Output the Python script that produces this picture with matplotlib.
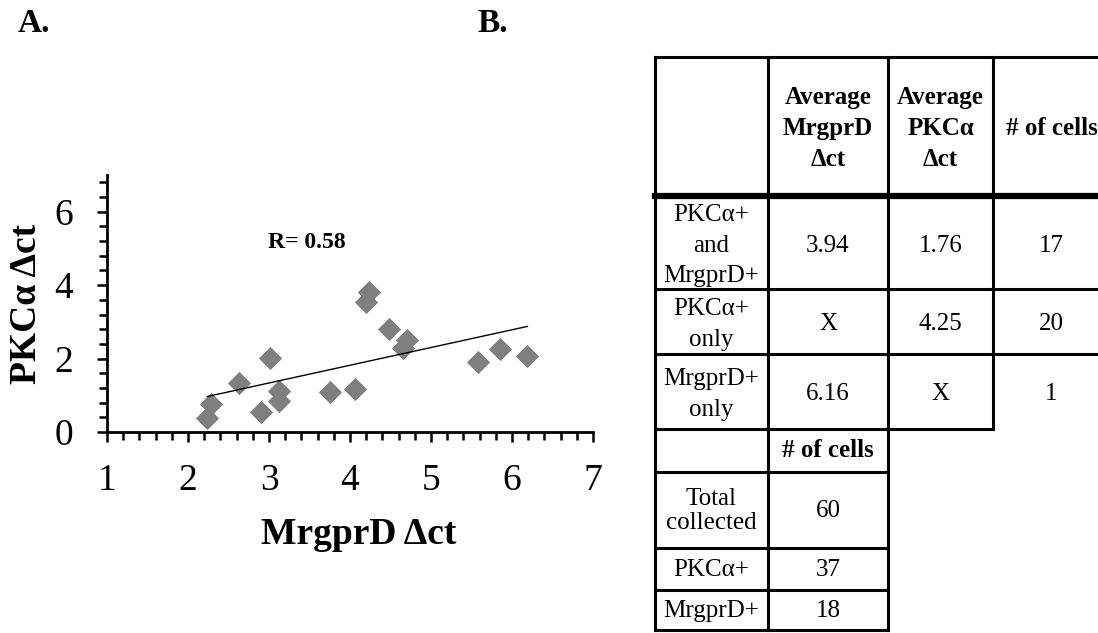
import numpy as np
import matplotlib
matplotlib.use("Agg")
import matplotlib.pyplot as plt
from matplotlib.ticker import MultipleLocator

# ---- data ----
mrgprd_dct = [2.24, 2.29, 2.63, 2.90, 3.01, 3.12, 3.12, 3.75, 4.06, 4.20, 4.23,
              4.48, 4.66, 4.70, 5.58, 5.85, 6.19]
pkca_dct = [0.37, 0.75, 1.34, 0.55, 2.01, 1.12, 0.85, 1.08, 1.16, 3.55, 3.82,
            2.80, 2.28, 2.51, 1.90, 2.26, 2.08]
r_text = "R= 0.58"
x_ticks = [1, 2, 3, 4, 5, 6, 7]
y_ticks = [0, 2, 4, 6]

table1_header = ["", "Average\nMrgprD\n\u0394ct", "Average\nPKC\u03b1\n\u0394ct", "# of cells"]
table1_rows = ["PKC\u03b1+\nand\nMrgprD+", "PKC\u03b1+\nonly", "MrgprD+\nonly"]
table1_mrgprd = ["3.94", "X", "6.16"]
table1_pkca = ["1.76", "4.25", "X"]
table1_cells = ["17", "20", "1"]

table2_header = ["", "# of cells"]
table2_rows = ["Total\ncollected", "PKC\u03b1+", "MrgprD+"]
table2_cells = ["60", "37", "18"]

plt.rcParams['font.family'] = ['Liberation Serif', 'DejaVu Serif']

W, H = 1098, 633
fig = plt.figure(figsize=(W / 100, H / 100), dpi=100)

# ---- scatter panel ----
ax = fig.add_axes([107 / W, 1 - 432 / H, (593 - 107) / W, (432 - 175) / H])
ax.scatter(mrgprd_dct, pkca_dct, marker='D', s=140, color='#7f7f7f',
           linewidths=0, zorder=3)
k, b = np.polyfit(mrgprd_dct, pkca_dct, 1)
xl = np.array([min(mrgprd_dct), max(mrgprd_dct)])
ax.plot(xl, k * xl + b, color='black', lw=1.0, zorder=4)
ax.text(3.47, 5.15, r_text, fontsize=17, fontweight='bold', ha='center', va='center')

ax.set_xlim(1, 7)
ax.set_ylim(0, 7)
ax.set_xticks(x_ticks)
ax.set_yticks(y_ticks)
ax.xaxis.set_minor_locator(MultipleLocator(0.2))
ax.yaxis.set_minor_locator(MultipleLocator(0.4))
for s in ['top', 'right']:
    ax.spines[s].set_visible(False)
for s in ['left', 'bottom']:
    ax.spines[s].set_linewidth(2.0)
ax.tick_params(which='major', direction='out', length=7.5, width=1.8, labelsize=27)
ax.tick_params(which='minor', direction='out', length=6, width=1.8)
ax.tick_params(axis='x', which='major', pad=15)
ax.tick_params(axis='y', which='major', pad=17)
ax.set_xlabel("MrgprD \u0394ct", fontsize=27, fontweight='bold')
ax.set_ylabel("PKC\u03b1 \u0394ct", fontsize=27, fontweight='bold')
ax.xaxis.set_label_coords((359 - 107) / (593 - 107), -(534 - 432) / (432 - 175))
ax.yaxis.set_label_coords(-(107 - 27) / (593 - 107), 0.5)
ax.xaxis.label.set_va('center')
ax.yaxis.label.set_va('center')

# ---- overlay for panel letters and table ----
ov = fig.add_axes([0, 0, 1, 1], zorder=-1)
ov.set_xlim(0, W)
ov.set_ylim(H, 0)
ov.axis('off')

ov.text(18, 32, "A.", fontsize=24, fontweight='bold', ha='left', va='baseline')
ov.text(477, 32, "B.", fontsize=24, fontweight='bold', ha='left', va='baseline')

lw = 2.2
col_x = [655, 768, 888, 993, 1110]
row_y = [57, 196, 289, 354, 429]

def hline(y, x0, x1, w=lw):
    ov.plot([x0, x1], [y, y], color='black', lw=w, solid_capstyle='projecting')

def vline(x, y0, y1, w=lw):
    ov.plot([x, x], [y0, y1], color='black', lw=w, solid_capstyle='projecting')

# table 1 grid
hline(row_y[0], col_x[0], W)
hline(row_y[1], col_x[0], W, w=4.5)
hline(row_y[2], col_x[0], W)
hline(row_y[3], col_x[0], W)
hline(row_y[4], col_x[0], col_x[3])
for x in col_x[:4]:
    vline(x, row_y[0], row_y[4])

# table 1 text
hdr_cy = (row_y[0] + row_y[1]) / 2
for i, t in enumerate(table1_header):
    if t:
        cx = (col_x[i] + col_x[i + 1]) / 2
        ov.text(cx, hdr_cy + 2, t, fontsize=18, fontweight='bold', ha='center',
                va='center', linespacing=1.45, multialignment='center')
for r in range(3):
    cy = (row_y[r + 1] + row_y[r + 2]) / 2
    vals = [table1_rows[r], table1_mrgprd[r], table1_pkca[r], table1_cells[r]]
    for i, t in enumerate(vals):
        cx = (col_x[i] + col_x[i + 1]) / 2
        ov.text(cx, cy + 3, t, fontsize=18, ha='center', va='center',
                linespacing=1.5, multialignment='center')

# table 2 grid
t2_y = [429, 472, 548, 590, 630]
for y in t2_y[1:]:
    hline(y, col_x[0], col_x[2])
for x in col_x[:3]:
    vline(x, t2_y[0], t2_y[-1])

# table 2 text
ov.text((col_x[1] + col_x[2]) / 2, (t2_y[0] + t2_y[1]) / 2, table2_header[1],
        fontsize=18, fontweight='bold', ha='center', va='center')
for r in range(3):
    cy = (t2_y[r + 1] + t2_y[r + 2]) / 2
    ov.text((col_x[0] + col_x[1]) / 2, cy + 1, table2_rows[r], fontsize=18,
            ha='center', va='center', linespacing=1.1, multialignment='center')
    ov.text((col_x[1] + col_x[2]) / 2, cy + 1, table2_cells[r], fontsize=18,
            ha='center', va='center')

fig.savefig("out.png", dpi=100)
